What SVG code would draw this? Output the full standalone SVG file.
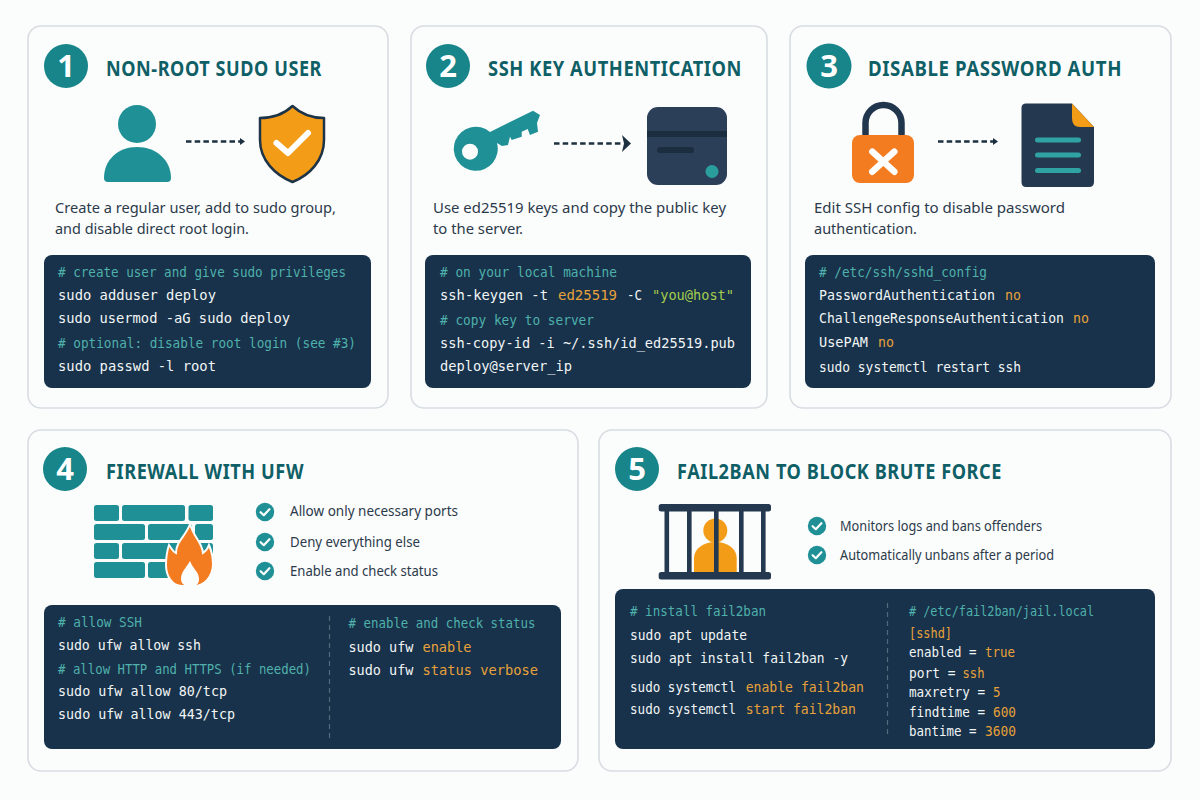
<svg xmlns="http://www.w3.org/2000/svg" width="1200" height="800" viewBox="0 0 1200 800">
<style>
.card{fill:#fbfcfc;stroke:#d8dde2;stroke-width:1.6}
.code{fill:#17324a}
.badge{fill:#17858a}
.num{font:700 31px "Noto Sans",sans-serif;fill:#fff;text-anchor:middle}
.title{font:700 22px "Noto Sans",sans-serif;fill:#0f5f66;letter-spacing:.7px}
.desc{font:400 15px "Noto Sans",sans-serif;fill:#2b3a4a}
.li{font:400 13.5px "Noto Sans",sans-serif;fill:#2b3a4a}
.c{font:400 13.5px "DejaVu Sans Mono",monospace;fill:#4fb0ac}
.w{font:400 14.5px "DejaVu Sans Mono",monospace;fill:#f2f5f6}
.s{font-size:13.2px}
.o{fill:#e8a13a}
.g{fill:#a5cc4e}
.teal{fill:#1f9196}
.navy{fill:#2b3f58}
.dash{stroke:#1c3040;stroke-width:2.4;stroke-dasharray:5.500 3.200;fill:none}
.sep{stroke:#4f6b7c;stroke-width:1.2;stroke-dasharray:5 4;fill:none}
.tick{fill:none;stroke:#fff;stroke-width:2.2;stroke-linecap:round;stroke-linejoin:round}
</style>
<defs>
<g id="chk"><circle r="9.2" class="teal"/><path class="tick" d="M-4.4 0.2L-1.2 3.2L4.4 -2.8"/></g>
</defs>
<rect width="1200" height="800" fill="#fbfcfc"/>

<g id="card1">
<rect class="card" x="28" y="26" width="360" height="382" rx="13"/>
<circle class="badge" cx="66" cy="66" r="22"/><text class="num" x="66" y="77">1</text>
<text class="title" x="106" y="75.500" textLength="216" lengthAdjust="spacingAndGlyphs">NON-ROOT SUDO USER</text>
<g id="icon-person" class="teal"><circle cx="137" cy="124" r="19"/><path d="M104 178C104 160 118 147 137 147C156 147 171 160 171 178Q171 182 167 182H108Q104 182 104 178Z"/></g>
<g id="icon-shield"><path d="M292.500 106C302 115 313 118 324 118V140C324 160 310 175 292.500 182C275 175 260 160 260 140V118C271 118 283 115 292.500 106Z" fill="#f39c18" stroke="#1d3347" stroke-width="2.500" stroke-linejoin="round"/><path d="M276.500 143L288 153L308 133" fill="none" stroke="#fff" stroke-width="6" stroke-linecap="round" stroke-linejoin="round"/></g>
<text class="desc" x="55" y="213" textLength="281" lengthAdjust="spacingAndGlyphs">Create a regular user, add to sudo group,</text>
<text class="desc" x="55" y="234" textLength="194" lengthAdjust="spacingAndGlyphs">and disable direct root login.</text>
<rect class="code" x="44" y="255" width="327" height="133" rx="8"/>
<text class="c" x="58" y="277" textLength="288" lengthAdjust="spacingAndGlyphs"># create user and give sudo privileges</text>
<text class="w" x="58" y="300" textLength="158" lengthAdjust="spacingAndGlyphs">sudo adduser deploy</text>
<text class="w" x="58" y="323" textLength="232" lengthAdjust="spacingAndGlyphs">sudo usermod -aG sudo deploy</text>
<text class="c" x="58" y="348" textLength="298" lengthAdjust="spacingAndGlyphs"># optional: disable root login (see #3)</text>
<text class="w" x="58" y="371" textLength="158" lengthAdjust="spacingAndGlyphs">sudo passwd -l root</text>
</g>

<g id="card2">
<rect class="card" x="411" y="26" width="356" height="382" rx="13"/>
<circle class="badge" cx="448" cy="66" r="22"/><text class="num" x="448" y="77">2</text>
<text class="title" x="488" y="75.500" textLength="254" lengthAdjust="spacingAndGlyphs">SSH KEY AUTHENTICATION</text>
<g id="icon-key"><path class="teal" fill-rule="evenodd" d="M490 132L533 110.700L540 115L537 123L538 131.700L530 135L527.700 129L521.700 131.700L521.700 136.700L511.700 140L510 136.700L508 145L502 146L497 143A22 22 0 1 1 490 132ZM478 151.700A8 8 0 1 0 462 151.700A8 8 0 1 0 478 151.700Z"/></g>
<g id="icon-server"><rect class="navy" x="647" y="107" width="80" height="78" rx="11"/><rect x="647" y="131" width="80" height="6" fill="#1b2e40"/><rect x="657" y="147" width="37" height="6" rx="3" fill="#1b2e40"/><circle cx="712" cy="171.500" r="6.500" fill="#2a9d9d"/></g>
<text class="desc" x="433" y="213" textLength="293" lengthAdjust="spacingAndGlyphs">Use ed25519 keys and copy the public key</text>
<text class="desc" x="433" y="234" textLength="90" lengthAdjust="spacingAndGlyphs">to the server.</text>
<rect class="code" x="425" y="255" width="326" height="133" rx="8"/>
<text class="c" x="440" y="277" textLength="177" lengthAdjust="spacingAndGlyphs"># on your local machine</text>
<text class="w" x="440" y="300" textLength="108" lengthAdjust="spacingAndGlyphs">ssh-keygen -t</text>
<text class="w o" x="558" y="300" textLength="59" lengthAdjust="spacingAndGlyphs">ed25519</text>
<text class="w" x="627" y="300" textLength="15" lengthAdjust="spacingAndGlyphs">-C</text>
<text class="w g" x="652" y="300" textLength="82" lengthAdjust="spacingAndGlyphs">"you@host"</text>
<text class="c" x="440" y="325" textLength="154" lengthAdjust="spacingAndGlyphs"># copy key to server</text>
<text class="w" x="440" y="348" textLength="295" lengthAdjust="spacingAndGlyphs">ssh-copy-id -i ~/.ssh/id_ed25519.pub</text>
<text class="w" x="440" y="371" textLength="132" lengthAdjust="spacingAndGlyphs">deploy@server_ip</text>
</g>

<g id="card3">
<rect class="card" x="790" y="26" width="381" height="382" rx="13"/>
<circle class="badge" cx="829" cy="66" r="22.500"/><text class="num" x="829" y="77">3</text>
<text class="title" x="868" y="75.500" textLength="254" lengthAdjust="spacingAndGlyphs">DISABLE PASSWORD AUTH</text>
<g id="icon-lock"><path d="M865.500 136V123A18 18 0 0 1 901.500 123V136" fill="none" stroke="#20364c" stroke-width="6.500"/><rect x="852" y="135" width="62" height="48" rx="8" fill="#f47c20"/><path d="M872.300 151.700L894.300 171.700M894.300 151.700L872.300 171.700" stroke="#fff" stroke-width="6.500" stroke-linecap="round"/></g>
<g id="icon-doc"><path d="M1026 103.500H1072L1094 127V182Q1094 187 1089 187H1026Q1021.500 187 1021.500 182V108Q1021.500 103.500 1026 103.500Z" fill="#24384f"/><path d="M1072 103.500L1094 127H1080Q1072 127 1072 118Z" fill="#f39c18"/><g fill="#2fa3a3"><rect x="1035" y="137.500" width="46" height="5" rx="2.500"/><rect x="1035" y="152.500" width="46" height="5" rx="2.500"/><rect x="1035" y="168" width="46" height="5" rx="2.500"/></g></g>
<text class="desc" x="814" y="213" textLength="251" lengthAdjust="spacingAndGlyphs">Edit SSH config to disable password</text>
<text class="desc" x="814" y="234" textLength="103" lengthAdjust="spacingAndGlyphs">authentication.</text>
<rect class="code" x="805" y="255" width="350" height="133" rx="8"/>
<text class="c" x="819" y="277" textLength="168" lengthAdjust="spacingAndGlyphs"># /etc/ssh/sshd_config</text>
<text class="w s" x="819" y="300" textLength="176" lengthAdjust="spacingAndGlyphs">PasswordAuthentication</text>
<text class="w o" x="1005" y="300" textLength="16" lengthAdjust="spacingAndGlyphs">no</text>
<text class="w s" x="819" y="323" textLength="245" lengthAdjust="spacingAndGlyphs">ChallengeResponseAuthentication</text>
<text class="w o" x="1073" y="323" textLength="16" lengthAdjust="spacingAndGlyphs">no</text>
<text class="w" x="819" y="347" textLength="49" lengthAdjust="spacingAndGlyphs">UsePAM</text>
<text class="w o" x="878" y="347" textLength="16" lengthAdjust="spacingAndGlyphs">no</text>
<text class="w" x="819" y="372" textLength="202" lengthAdjust="spacingAndGlyphs">sudo systemctl restart ssh</text>
</g>

<g id="card4">
<rect class="card" x="28" y="430" width="550" height="341" rx="13"/>
<circle class="badge" cx="65" cy="469" r="22"/><text class="num" x="65" y="480">4</text>
<text class="title" x="106" y="478.500" textLength="198" lengthAdjust="spacingAndGlyphs">FIREWALL WITH UFW</text>
<g id="icon-firewall"><g class="teal">
<rect x="94" y="505" width="25" height="16" rx="2.500"/><rect x="122" y="505" width="63" height="16" rx="2.500"/><rect x="188.500" y="505" width="24.500" height="16" rx="2.500"/>
<rect x="94" y="524" width="51" height="16" rx="2.500"/><rect x="148" y="524" width="44" height="16" rx="2.500"/><rect x="195" y="524" width="18" height="16" rx="2.500"/>
<rect x="94" y="543" width="25" height="16" rx="2.500"/><rect x="122" y="543" width="63" height="16" rx="2.500"/><rect x="188.500" y="543" width="24.500" height="16" rx="2.500"/>
<rect x="94" y="562" width="51" height="16" rx="2.500"/><rect x="148" y="562" width="40" height="16" rx="2.500"/></g>
<path d="M190 524C194 538 202 542 203 553C206 551 208 548 209 545C212 552 213 558 213 564C213 577 204 586 194 586H182C172 586 166 576 166 565C166 557 167 551 169 545C172 549 173 552 176 553C176 541 186 536 190 524Z" fill="#f47c20" stroke="#fbfcfc" stroke-width="2"/>
<path d="M190 561C186 568 181 572 181 579C181 583 184 586 187 586H193C197 586 199 583 199 579C199 572 193 569 190 561Z" fill="#fbfcfc"/></g>
<use href="#chk" x="265" y="512"/><text class="li" x="290" y="516" textLength="168" lengthAdjust="spacingAndGlyphs">Allow only necessary ports</text>
<use href="#chk" x="265" y="542"/><text class="li" x="290" y="547" textLength="130" lengthAdjust="spacingAndGlyphs">Deny everything else</text>
<use href="#chk" x="265" y="571"/><text class="li" x="290" y="576" textLength="148" lengthAdjust="spacingAndGlyphs">Enable and check status</text>
<rect class="code" x="44" y="605" width="517" height="144" rx="8"/>
<text class="c" x="58" y="627" textLength="84" lengthAdjust="spacingAndGlyphs"># allow SSH</text>
<text class="w" x="58" y="650" textLength="143" lengthAdjust="spacingAndGlyphs">sudo ufw allow ssh</text>
<text class="c" x="58" y="674" textLength="253" lengthAdjust="spacingAndGlyphs"># allow HTTP and HTTPS (if needed)</text>
<text class="w" x="58" y="696" textLength="169" lengthAdjust="spacingAndGlyphs">sudo ufw allow 80/tcp</text>
<text class="w" x="58" y="719" textLength="177" lengthAdjust="spacingAndGlyphs">sudo ufw allow 443/tcp</text>
<path class="sep" d="M329.500 616V740"/>
<text class="c" x="348.500" y="628" textLength="187" lengthAdjust="spacingAndGlyphs"># enable and check status</text>
<text class="w" x="348.500" y="652" textLength="65" lengthAdjust="spacingAndGlyphs">sudo ufw</text>
<text class="w o" x="422.500" y="652" textLength="49" lengthAdjust="spacingAndGlyphs">enable</text>
<text class="w" x="348.500" y="675" textLength="65" lengthAdjust="spacingAndGlyphs">sudo ufw</text>
<text class="w o" x="422.500" y="675" textLength="115.500" lengthAdjust="spacingAndGlyphs">status verbose</text>
</g>

<g id="card5">
<rect class="card" x="599" y="430" width="572" height="341" rx="13"/>
<circle class="badge" cx="637" cy="469" r="22"/><text class="num" x="637" y="480">5</text>
<text class="title" x="677" y="478.500" textLength="325" lengthAdjust="spacingAndGlyphs">FAIL2BAN TO BLOCK BRUTE FORCE</text>
<g id="icon-jail"><g fill="#f39c18"><circle cx="715.300" cy="530.500" r="12"/><path d="M694 572V558C694 549 703 542 715.300 542C728 542 736.700 549 736.700 558V572Z"/></g>
<g fill="#24384f"><rect x="658.700" y="504" width="112.300" height="7.500" rx="2.500"/><rect x="658.700" y="572" width="112.300" height="7.500" rx="2.500"/><rect x="664.500" y="510" width="4.600" height="63"/><rect x="687" y="510" width="4.600" height="63"/><rect x="714" y="510" width="4.600" height="63"/><rect x="739" y="510" width="4.600" height="63"/><rect x="761" y="510" width="4.600" height="63"/></g></g>
<use href="#chk" x="817" y="526"/><text class="li" x="840" y="531" textLength="202" lengthAdjust="spacingAndGlyphs">Monitors logs and bans offenders</text>
<use href="#chk" x="817" y="555"/><text class="li" x="840" y="560" textLength="214" lengthAdjust="spacingAndGlyphs">Automatically unbans after a period</text>
<rect class="code" x="615" y="589" width="540" height="160" rx="8"/>
<text class="c" x="630" y="616" textLength="136" lengthAdjust="spacingAndGlyphs"># install fail2ban</text>
<text class="w" x="630" y="640" textLength="117" lengthAdjust="spacingAndGlyphs">sudo apt update</text>
<text class="w" x="630" y="663" textLength="218" lengthAdjust="spacingAndGlyphs">sudo apt install fail2ban -y</text>
<text class="w s" x="630" y="692" textLength="106" lengthAdjust="spacingAndGlyphs">sudo systemctl</text>
<text class="w o" x="745.700" y="692" textLength="118.300" lengthAdjust="spacingAndGlyphs">enable fail2ban</text>
<text class="w s" x="630" y="714" textLength="106" lengthAdjust="spacingAndGlyphs">sudo systemctl</text>
<text class="w o" x="745.700" y="714" textLength="110.300" lengthAdjust="spacingAndGlyphs">start fail2ban</text>
<path class="sep" d="M887.500 603V738"/>
<text class="c" x="909" y="616" textLength="185" lengthAdjust="spacingAndGlyphs"># /etc/fail2ban/jail.local</text>
<text class="w o" x="909" y="638" textLength="43" lengthAdjust="spacingAndGlyphs">[sshd]</text>
<text class="w s" x="909" y="657" textLength="67.500" lengthAdjust="spacingAndGlyphs">enabled =</text>
<text class="w o" x="985" y="657" textLength="30" lengthAdjust="spacingAndGlyphs">true</text>
<text class="w s" x="909" y="678" textLength="46.500" lengthAdjust="spacingAndGlyphs">port =</text>
<text class="w o" x="962.500" y="678" textLength="22" lengthAdjust="spacingAndGlyphs">ssh</text>
<text class="w s" x="909" y="697" textLength="76" lengthAdjust="spacingAndGlyphs">maxretry =</text>
<text class="w o" x="993" y="697" textLength="7.500" lengthAdjust="spacingAndGlyphs">5</text>
<text class="w s" x="909" y="717" textLength="76" lengthAdjust="spacingAndGlyphs">findtime =</text>
<text class="w o" x="993" y="717" textLength="23" lengthAdjust="spacingAndGlyphs">600</text>
<text class="w s" x="909" y="736" textLength="67.500" lengthAdjust="spacingAndGlyphs">bantime =</text>
<text class="w o" x="985" y="736" textLength="31" lengthAdjust="spacingAndGlyphs">3600</text>
</g>

<g id="connectors">
<path class="dash" d="M186 141.500H241"/><path d="M240 138L245 141.500L240 145Z" fill="#1c3040"/>
<path class="dash" d="M554 143.500H622"/><path d="M622 135L631 143.500L622 152L624 143.500Z" fill="#1c3040"/>
<path class="dash" d="M938 141.500H993"/><path d="M993 138L998 141.500L993 145Z" fill="#1c3040"/>
</g>
</svg>
